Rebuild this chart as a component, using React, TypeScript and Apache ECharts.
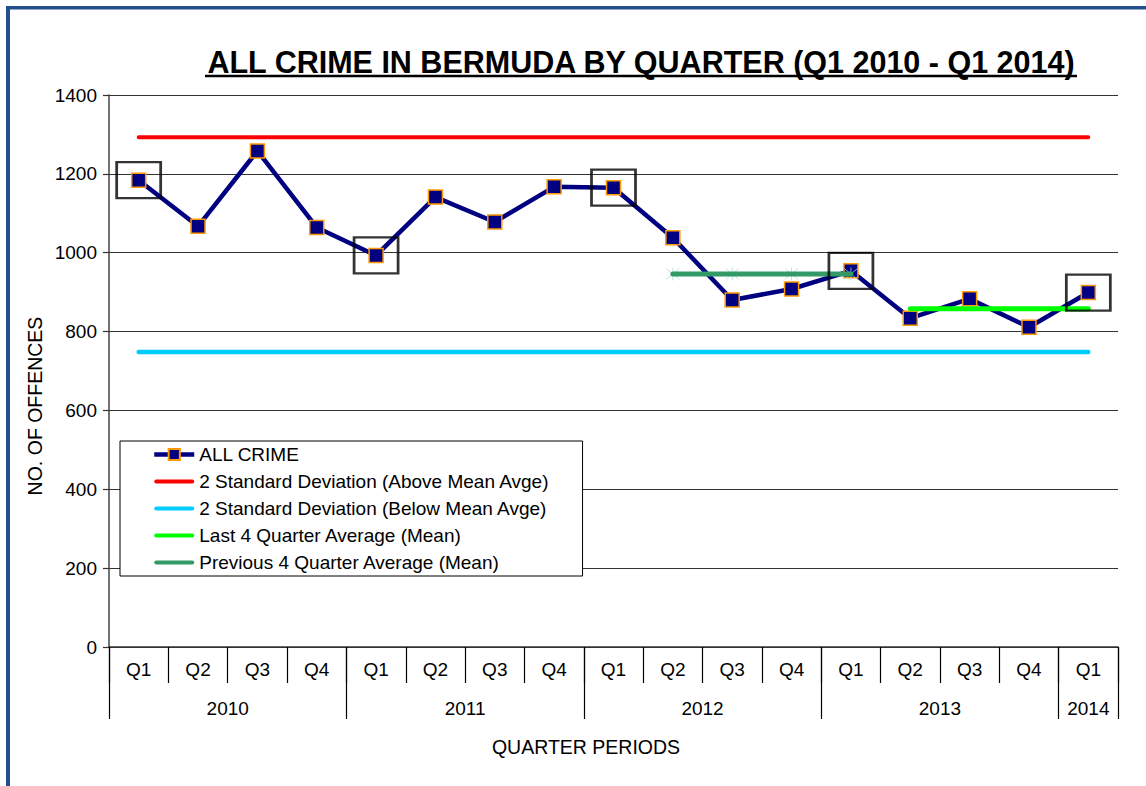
import React, { useEffect, useRef } from "react";
import * as echarts from "echarts";

const quarters = ["Q1", "Q2", "Q3", "Q4", "Q1", "Q2", "Q3", "Q4", "Q1", "Q2", "Q3", "Q4", "Q1", "Q2", "Q3", "Q4", "Q1"];
const years = ["2010", "2011", "2012", "2013", "2014"];
const quartersPerYear = [4, 4, 4, 4, 1];
const allCrime = [1184, 1067, 1258, 1064, 993, 1141, 1078, 1167, 1165, 1038, 880, 908, 954, 834, 883, 811, 899];
const upper2SD = [1293, 1293, 1293, 1293, 1293, 1293, 1293, 1293, 1293, 1293, 1293, 1293, 1293, 1293, 1293, 1293, 1293];
const lower2SD = [748, 748, 748, 748, 748, 748, 748, 748, 748, 748, 748, 748, 748, 748, 748, 748, 748];
const lastAvg = [null, null, null, null, null, null, null, null, null, null, null, null, null, 858, 858, 858, 858];
const prevAvg = [null, null, null, null, null, null, null, null, null, 946, 946, 946, 946, null, null, null, null];
const yTicks = { min: 0, max: 1400, interval: 200 };

const FONT = "'Liberation Sans', Arial, sans-serif";
const BAR_ICON = "path://M2,0 L38,0 A2,2 0 0 1 38,4 L2,4 A2,2 0 0 1 2,0 Z";

export default function App() {
  const ref = useRef<HTMLDivElement>(null);
  useEffect(() => {
    if (!ref.current) return;
    const chart = echarts.init(ref.current, null, { renderer: "svg" });

    const bounds: number[] = [0];
    const centers: number[] = [];
    quartersPerYear.forEach((n, i) => {
      const start = bounds[i];
      bounds.push(start + n);
      centers.push(start + n / 2);
    });
    const boxes = allCrime.map((v, i) => (quarters[i] === "Q1" ? v : null));

    const names = [
      "ALL CRIME",
      "2 Standard Deviation (Above Mean Avge)",
      "2 Standard Deviation (Below Mean Avge)",
      "Last 4 Quarter Average (Mean)",
      "Previous 4 Quarter Average (Mean)",
    ];

    chart.setOption({
      animation: false,
      backgroundColor: "#ffffff",
      textStyle: { fontFamily: FONT },
      grid: { left: 109, right: 28, top: 95, bottom: 139, containLabel: false },
      legend: {
        data: names.map((n, i) => (i === 0 ? { name: n } : { name: n, icon: BAR_ICON })),
        orient: "vertical",
        left: 120,
        top: 441,
        itemWidth: 40,
        itemHeight: 14,
        itemGap: 8,
        padding: [4, 33, 4, 32],
        backgroundColor: "#ffffff",
        borderColor: "#000000",
        borderWidth: 1,
        borderRadius: 0,
        lineStyle: { width: 4.5 },
        textStyle: { fontSize: 19, lineHeight: 19, color: "#000", fontFamily: FONT },
        z: 20,
      },
      xAxis: [
        {
          type: "category",
          data: quarters,
          position: "bottom",
          boundaryGap: true,
          axisLine: { show: true, lineStyle: { color: "#333333", width: 1.5 } },
          axisTick: { show: true, interval: 0, length: 36, lineStyle: { color: "#000", width: 1.2 } },
          axisLabel: { interval: 0, margin: 13, fontSize: 19, color: "#000", fontFamily: FONT },
          splitLine: { show: false },
        },
        {
          type: "value",
          min: 0,
          max: quarters.length,
          position: "bottom",
          axisLine: { show: false },
          splitLine: { show: false },
          axisTick: {
            show: true,
            length: 72,
            customValues: bounds,
            lineStyle: { color: "#000", width: 1.2 },
          },
          axisLabel: {
            show: true,
            margin: 52,
            fontSize: 19,
            color: "#000",
            fontFamily: FONT,
            customValues: centers,
            formatter: (v: number) => {
              const idx = centers.findIndex((c) => Math.abs(c - v) < 1e-6);
              return idx >= 0 ? years[idx] : "";
            },
          },
        },
      ],
      yAxis: {
        type: "value",
        min: yTicks.min,
        max: yTicks.max,
        interval: yTicks.interval,
        axisLine: { show: true, lineStyle: { color: "#444444", width: 1.5 } },
        axisTick: { show: true, inside: false, length: 6, lineStyle: { color: "#333", width: 1.2 } },
        axisLabel: { margin: 12, fontSize: 19, color: "#000", fontFamily: FONT, formatter: (v: number) => String(v) },
        splitLine: { show: true, lineStyle: { color: "#333333", width: 1.2 } },
      },
      series: [
        {
          name: "2 Standard Deviation (Above Mean Avge)",
          type: "line",
          data: upper2SD,
          symbol: "none",
          lineStyle: { color: "#ff0000", width: 4, cap: "round" },
          itemStyle: { color: "#ff0000" },
          z: 2,
        },
        {
          name: "2 Standard Deviation (Below Mean Avge)",
          type: "line",
          data: lower2SD,
          symbol: "none",
          lineStyle: { color: "#00ccff", width: 4.5, cap: "round" },
          itemStyle: { color: "#00ccff" },
          z: 2,
        },
        {
          name: "ALL CRIME",
          type: "line",
          data: allCrime,
          symbol: "rect",
          symbolSize: 14,
          lineStyle: { color: "#000080", width: 4.5 },
          itemStyle: { color: "#000080", borderColor: "#ff9900", borderWidth: 1.5 },
          z: 3,
        },
        {
          name: "prevMarkers",
          type: "scatter",
          data: prevAvg,
          symbol: "path://M0,0 L10,10 M10,0 L0,10 M5,-1 L5,11",
          symbolSize: 13,
          itemStyle: { color: "none", borderColor: "#a9dbe6", borderWidth: 1 },
          z: 3,
          silent: true,
        },
        {
          name: "Previous 4 Quarter Average (Mean)",
          type: "line",
          data: prevAvg,
          symbol: "none",
          lineStyle: { color: "#339966", width: 5, cap: "round" },
          itemStyle: { color: "#339966" },
          z: 4,
        },
        {
          name: "Last 4 Quarter Average (Mean)",
          type: "line",
          data: lastAvg,
          symbol: "none",
          lineStyle: { color: "#00ff00", width: 5, cap: "round" },
          itemStyle: { color: "#00ff00" },
          z: 4,
        },
        {
          name: "boxes",
          type: "scatter",
          data: boxes,
          symbol: "rect",
          symbolSize: [44, 36],
          itemStyle: { color: "rgba(0,0,0,0)", borderColor: "#000000", borderWidth: 2.5 },
          z: 6,
          silent: true,
        },
      ],
      graphic: [
        { type: "rect", shape: { x: 6, y: 6, width: 1140, height: 3.5 }, style: { fill: "#23508a" }, z: 100 },
        { type: "rect", shape: { x: 6, y: 6, width: 4, height: 780 }, style: { fill: "#23508a" }, z: 100 },
        {
          type: "text",
          x: 641,
          y: 62,
          style: {
            text: "ALL CRIME IN BERMUDA BY QUARTER (Q1 2010 - Q1 2014)",
            font: `bold 30.5px ${FONT}`,
            fill: "#000",
            textAlign: "center",
            textVerticalAlign: "middle",
          },
        },
        { type: "line", shape: { x1: 205, y1: 76, x2: 1077, y2: 76 }, style: { stroke: "#000", lineWidth: 2.5 } },
        {
          type: "text",
          x: 35,
          y: 406,
          rotation: Math.PI / 2,
          style: {
            text: "NO. OF OFFENCES",
            font: `19.5px ${FONT}`,
            fill: "#000",
            textAlign: "center",
            textVerticalAlign: "middle",
          },
        },
        {
          type: "text",
          x: 586,
          y: 747,
          style: {
            text: "QUARTER PERIODS",
            font: `19.5px ${FONT}`,
            fill: "#000",
            textAlign: "center",
            textVerticalAlign: "middle",
          },
        },
      ],
    });
    return () => chart.dispose();
  }, []);
  return <div ref={ref} style={{ position: "absolute", left: 0, top: 0, width: 1146, height: 786 }} />;
}
